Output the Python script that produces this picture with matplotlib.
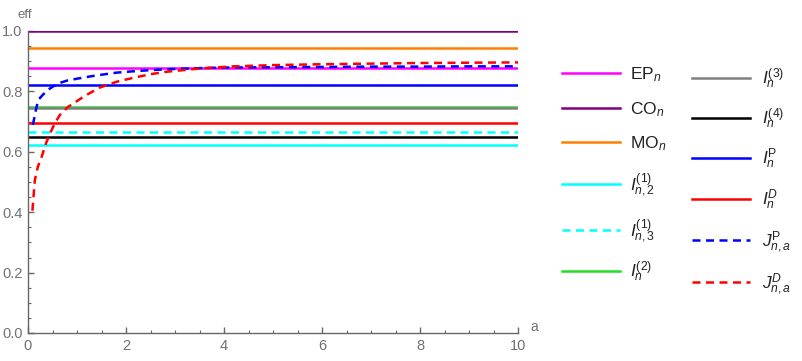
import matplotlib
matplotlib.use("Agg")
import matplotlib.pyplot as plt
from matplotlib.lines import Line2D
from matplotlib.ticker import MultipleLocator

plt.rcParams['font.family'] = ['Liberation Sans', 'DejaVu Sans']
plt.rcParams['mathtext.fontset'] = 'custom'
plt.rcParams['mathtext.rm'] = 'Liberation Sans'
plt.rcParams['mathtext.it'] = 'Liberation Sans:italic'
plt.rcParams['mathtext.bf'] = 'Liberation Sans:bold'

# constant efficiencies (horizontal lines)
nombres_const = ["EP", "CO", "MO", "I12", "I13", "I2", "I3", "I4", "IP", "ID"]
valores_const = [0.876, 1.0, 0.944, 0.621, 0.664, 0.749, 0.745, 0.649, 0.820, 0.696]

# curves depending on a
a_jp = [0.10, 0.16, 0.21, 0.31, 0.45, 0.61, 0.80, 1.1, 1.4, 1.8, 2.1, 2.46, 2.8, 3.1, 3.5,
        4.0, 5.0, 6.0, 7.0, 8.0, 9.0, 10.0]
jp = [0.689, 0.738, 0.772, 0.790, 0.810, 0.826, 0.836, 0.845, 0.853, 0.862, 0.866, 0.870,
      0.873, 0.875, 0.877, 0.879, 0.880, 0.881, 0.882, 0.882, 0.883, 0.883]
a_jd = [0.09, 0.14, 0.20, 0.28, 0.36, 0.45, 0.55, 0.65, 0.82, 1.0, 1.13, 1.3, 1.47, 1.65,
        1.81, 2.15, 2.5, 2.83, 3.2, 3.51, 4.2, 5.0, 6.0, 7.0, 8.0, 9.0, 10.0]
jd = [0.405, 0.507, 0.550, 0.584, 0.625, 0.661, 0.695, 0.722, 0.749, 0.768, 0.782, 0.798,
      0.813, 0.823, 0.832, 0.845, 0.857, 0.865, 0.871, 0.876, 0.883, 0.887, 0.890, 0.892,
      0.894, 0.895, 0.896]

etiquetas = {
    "EP": r"$\mathrm{EP}_{n}$", "CO": r"$\mathrm{CO}_{n}$", "MO": r"$\mathrm{MO}_{n}$",
    "I12": r"$I_{n,2}^{(1)}$", "I13": r"$I_{n,3}^{(1)}$", "I2": r"$I_{n}^{(2)}$",
    "I3": r"$I_{n}^{(3)}$", "I4": r"$I_{n}^{(4)}$", "IP": r"$I_{n}^{\mathrm{P}}$",
    "ID": r"$I_{n}^{D}$", "JP": r"$J_{n,a}^{\mathrm{P}}$", "JD": r"$J_{n,a}^{D}$",
}
colores = {
    "EP": "#ff00ff", "CO": "#800080", "MO": "#ff8000", "I12": "#00ffff", "I13": "#00ffff",
    "I2": "#22dd22", "I3": "#808080", "I4": "#000000", "IP": "#0000ff", "ID": "#ff0000",
    "JP": "#0000ff", "JD": "#ff0000",
}
punteadas = {"I13", "JP", "JD"}

W, H = 803, 361
fig = plt.figure(figsize=(W / 100, H / 100), dpi=100)
ax = fig.add_axes([28 / W, 1 - 333 / H, 490 / W, 302 / H])

def estilo(k):
    if k in punteadas:
        return dict(color=colores[k], lw=1.8, dashes=(3.2, 2.2))
    return dict(color=colores[k], lw=1.8)

for k, v in zip(nombres_const, valores_const):
    ax.plot([0, 10], [v, v], **estilo(k))
ax.plot(a_jp, jp, **estilo("JP"))
ax.plot(a_jd, jd, **estilo("JD"))

gris = "#666666"
ax.set_xlim(0, 10)
ax.set_ylim(0, 1.0)
ax.xaxis.set_major_locator(MultipleLocator(2))
ax.xaxis.set_minor_locator(MultipleLocator(0.5))
ax.yaxis.set_major_locator(MultipleLocator(0.2))
ax.yaxis.set_minor_locator(MultipleLocator(0.05))
ax.xaxis.set_major_formatter(lambda x, p: f"{x:.0f}")
ax.yaxis.set_major_formatter(lambda y, p: f"{y:.1f}")
for s in ["top", "right"]:
    ax.spines[s].set_visible(False)
for s in ["left", "bottom"]:
    ax.spines[s].set_color(gris)
    ax.spines[s].set_linewidth(1.0)
ax.tick_params(which="major", direction="in", length=4, width=1, color=gris,
               labelsize=10.5, labelcolor="#707070", pad=4)
ax.tick_params(which="minor", direction="in", length=2.5, width=0.8, color=gris)
ax.patch.set_alpha(0)

fig.text(17 / W, 1 - 18 / H, "eff", fontsize=9.5, color="#707070")
fig.text(530 / W, 1 - 331 / H, "a", fontsize=10, color="#707070")

# legend, two columns
col1 = [("EP", 73), ("CO", 108), ("MO", 142), ("I12", 184), ("I13", 230), ("I2", 271)]
col2 = [("I3", 78), ("I4", 118), ("IP", 158), ("ID", 199), ("JP", 240), ("JD", 282)]
for col, x0, x1, xt in [(col1, 562, 620, 630), (col2, 692, 750, 762)]:
    for k, y in col:
        fig.add_artist(Line2D([x0 / W, x1 / W], [1 - y / H] * 2,
                              transform=fig.transFigure, **estilo(k)))
        fig.text(xt / W, 1 - (y + 6) / H, etiquetas[k], fontsize=12.5, va="baseline",
                 color="#222222")

fig.savefig("out.png", dpi=100)
